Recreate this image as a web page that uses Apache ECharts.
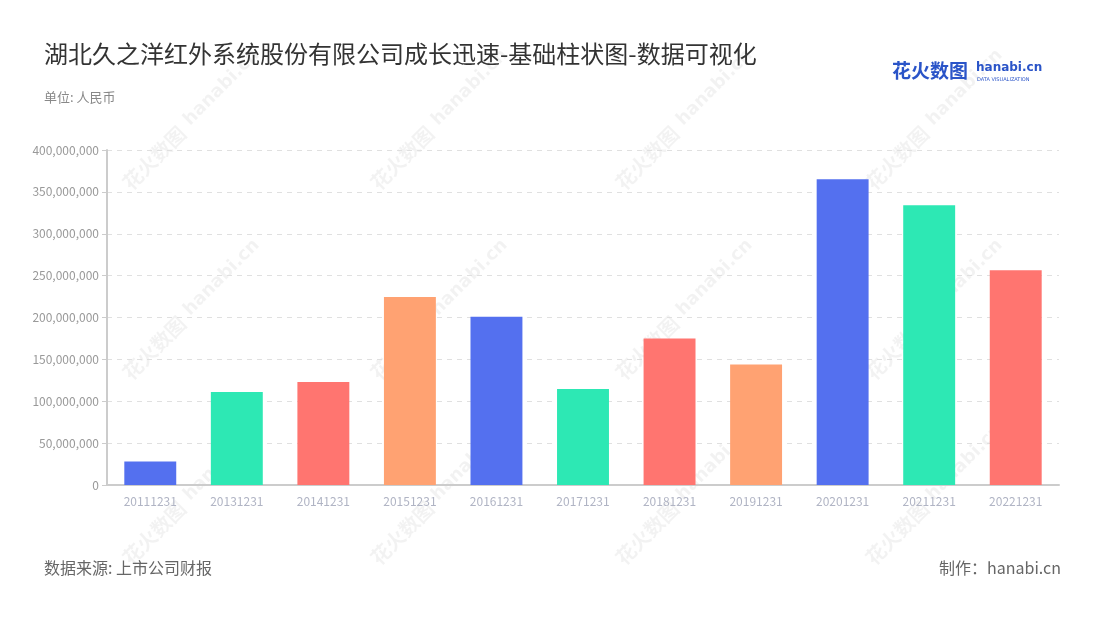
<!DOCTYPE html>
<html>
<head>
<meta charset="utf-8">
<script src="https://cdn.jsdelivr.net/npm/echarts@6/dist/echarts.min.js"></script>
<style>
  html, body { margin: 0; padding: 0; background: #fff; }
  #main { width: 1100px; height: 620px; }
</style>
</head>
<body>
<div id="main"></div>
<script>
// 报告期
const periods = ['20111231', '20131231', '20141231', '20151231', '20161231', '20171231',
  '20181231', '20191231', '20201231', '20211231', '20221231']
// 数值 (人民币)
const values = [28000000, 111000000, 123000000, 224500000, 201000000, 114500000,
  175000000, 144000000, 365000000, 334000000, 256500000]
const palette = ['#5470EF', '#2DE8B4', '#FF7570', '#FFA272']

const font = '"Noto Sans CJK SC", "Noto Sans", sans-serif'

// 水印
const marks = []
const wmX = [147, 395, 640, 890]
const wmY = [165, 355, 540]
wmY.forEach(y => {
  wmX.forEach(x => {
    marks.push({
      type: 'group',
      x: x, y: y,
      rotation: Math.PI / 4,
      silent: true,
      children: [
        {
          type: 'text',
          style: { text: '花火数图', x: -30, y: 0, fill: 'rgba(0,0,0,0.05)', font: 'bold 20px ' + font, textVerticalAlign: 'middle' }
        },
        {
          type: 'text',
          style: { text: 'hanabi.cn', x: 58, y: -2, fill: 'rgba(0,0,0,0.05)', font: 'bold 18px "DejaVu Sans", sans-serif', textVerticalAlign: 'middle' }
        }
      ]
    })
  })
})

const myChart = echarts.init(document.getElementById('main'))
myChart.setOption({
  backgroundColor: '#fff',
  textStyle: { fontFamily: font },
  title: [
    {
      text: '湖北久之洋红外系统股份有限公司成长迅速-基础柱状图-数据可视化',
      left: 39, top: 37,
      textStyle: { fontSize: 24, fontWeight: 'normal', color: '#333', fontFamily: font }
    },
    {
      text: '单位: 人民币',
      left: 39, top: 86,
      textStyle: { fontSize: 13, fontWeight: 'normal', color: '#888', fontFamily: font }
    },
    {
      text: '数据来源: 上市公司财报',
      left: 39, top: 555,
      textStyle: { fontSize: 16, fontWeight: 'normal', color: '#666', fontFamily: font }
    },
    {
      text: '制作：hanabi.cn',
      right: 34, top: 555,
      textStyle: { fontSize: 16, fontWeight: 'normal', color: '#666', fontFamily: font }
    }
  ],
  graphic: marks.concat([
    {
      type: 'text', left: 892, top: 61,
      style: { text: '花火数图', fill: '#2a54c8', font: 'bold 19px ' + font }
    },
    {
      type: 'text', left: 976, top: 62,
      style: { text: 'hanabi.cn', fill: '#2a54c8', font: 'bold 12px "DejaVu Sans", sans-serif' }
    },
    {
      type: 'text', left: 977, top: 77,
      style: { text: 'DATA VISUALIZATION', fill: '#2a54c8', font: '5px "DejaVu Sans", sans-serif' }
    }
  ]),
  grid: { left: 107, right: 41, top: 150, bottom: 135 },
  xAxis: {
    type: 'category',
    data: periods,
    axisLine: { lineStyle: { color: '#ccc', width: 2 } },
    axisTick: { alignWithLabel: true, lineStyle: { color: '#ccc' } },
    axisLabel: { color: '#b0b4c4', fontSize: 12, margin: 10 }
  },
  yAxis: {
    type: 'value',
    min: 0, max: 400000000, interval: 50000000,
    axisLine: { show: true, lineStyle: { color: '#ccc', width: 2 } },
    axisTick: { show: true, lineStyle: { color: '#ccc' } },
    axisLabel: {
      color: '#999', fontSize: 12,
      formatter: v => v.toLocaleString('en-US')
    },
    splitLine: { lineStyle: { color: '#e0e0e0', type: [5, 5] } }
  },
  series: [
    {
      type: 'bar',
      data: values.map((v, i) => ({ value: v, itemStyle: { color: palette[i % palette.length] } })),
      barWidth: '60%'
    }
  ]
})
window.addEventListener('resize', myChart.resize)
</script>
</body>
</html>
